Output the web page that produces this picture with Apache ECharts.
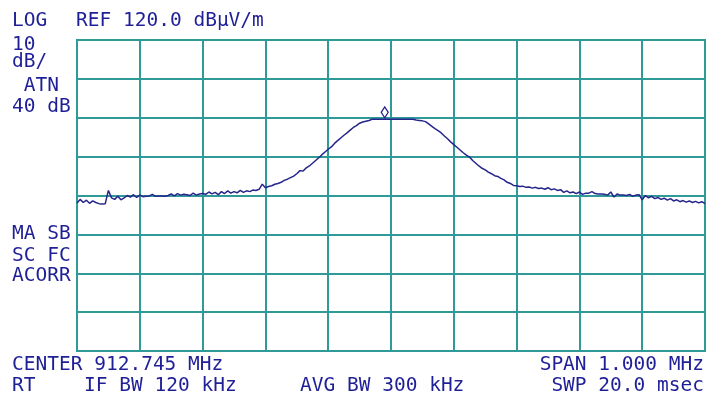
<!DOCTYPE html>
<html>
<head>
<meta charset="utf-8">
<script src="https://cdn.jsdelivr.net/npm/echarts@6/dist/echarts.min.js"></script>
<style>
html,body{margin:0;padding:0;background:#ffffff;}
#chart{width:708px;height:401px;}
</style>
</head>
<body>
<div id="chart"></div>
<script>
// Sweep settings (kHz offset from centre)
const spanStartKHz = -500;
const spanEndKHz = 500;
const sweepStepKHz = 5;
// Reference level and scale (dBµV/m)
const refLevel = 120;
const bottomLevel = 40;
const dbPerDiv = 10;

// Trace levels (dBµV/m), one per sweep point
const traceLevels = [
  78.1, 79.0, 78.2, 78.8, 78.0, 78.6, 78.2, 77.9, 77.8, 77.9,
  81.3, 79.4, 79.0, 79.8, 78.9, 79.4, 80.0, 79.6, 80.2, 79.5,
  80.1, 79.7, 79.8, 79.9, 80.3, 79.8, 79.9, 79.9, 79.8, 80.0,
  80.4, 79.9, 80.5, 80.1, 80.3, 80.2, 80.0, 80.6, 80.1, 80.4,
  80.5, 80.3, 80.9, 80.4, 80.8, 80.2, 81.0, 80.5, 81.2, 80.6,
  81.0, 80.7, 81.3, 80.8, 81.2, 81.0, 81.4, 81.3, 81.6, 82.9,
  82.0, 82.3, 82.5, 82.9, 83.1, 83.4, 83.9, 84.2, 84.6, 85.0,
  85.6, 86.4, 86.3, 87.1, 87.6, 88.3, 89.0, 89.7, 90.5, 91.2,
  91.9, 92.5, 93.4, 94.1, 94.8, 95.5, 96.1, 96.8, 97.5, 98.0,
  98.6, 98.9, 99.1, 99.3, 99.6, 99.6, 99.6, 99.6, 99.6, 99.6,
  99.6, 99.6, 99.6, 99.6, 99.6, 99.6, 99.6, 99.6, 99.4, 99.3,
  99.2, 99.0, 98.4, 97.8, 97.2, 96.7, 96.1, 95.3, 94.6, 93.8,
  93.1, 92.4, 91.7, 91.0, 90.4, 89.9, 89.0, 88.3, 87.6, 87.0,
  86.6, 86.0, 85.6, 85.1, 84.9, 84.4, 84.0, 83.4, 83.1, 82.6,
  82.5, 82.3, 82.4, 82.1, 82.2, 81.9, 82.1, 81.8, 81.9, 81.6,
  82.0, 81.5, 81.7, 81.3, 81.5, 80.8, 81.2, 80.7, 80.9, 80.5,
  80.9, 80.3, 80.6, 80.6, 81.0, 80.5, 80.4, 80.4, 80.3, 80.1,
  80.9, 79.6, 80.4, 80.1, 80.1, 80.0, 80.3, 79.8, 80.1, 80.2,
  78.9, 80.0, 79.4, 79.8, 79.2, 79.5, 79.0, 79.3, 78.8, 79.2,
  78.6, 78.9, 78.4, 78.7, 78.3, 78.6, 78.2, 78.5, 78.1, 78.4,
  77.9
];
// Marker position (sweep point index)
const markerIndex = 98;

// Annotation texts
const topLeftTexts = ['LOG', '10', 'dB/', ' ATN', '40 dB'];
const refText = 'REF 120.0 dB\u00b5V/m';
const sideTexts = ['MA SB', 'SC FC', 'ACORR'];
const centerText = 'CENTER 912.745 MHz';
const spanText = 'SPAN 1.000 MHz';
const rtText = 'RT';
const ifbwText = 'IF BW 120 kHz';
const avgbwText = 'AVG BW 300 kHz';
const swpText = 'SWP 20.0 msec';

const traceData = traceLevels.map((v, i) => [spanStartKHz + i * sweepStepKHz, v]);

const TEXT = '#1f1f97';
const TRACE = '#25258c';
const GRIDC = '#2f9a98';
const FONT = '19.5px "DejaVu Sans Mono", monospace';

function txt(s, x, y, align) {
  return {
    type: 'text',
    style: { text: s, x: x, y: y, font: FONT, fill: TEXT, textAlign: align || 'left', textVerticalAlign: 'middle' },
    z: 10
  };
}

const graphics = [];
const tlY = [20.5, 44.5, 61.5, 85.5, 107];
topLeftTexts.forEach((s, k) => graphics.push(txt(s, 12, tlY[k])));
graphics.push(txt(refText, 76, 20.5));
const sideY = [233.5, 255.5, 275.5];
sideTexts.forEach((s, k) => graphics.push(txt(s, 12, sideY[k])));
graphics.push(txt(centerText, 12, 365));
graphics.push(txt(spanText, 704, 365, 'right'));
graphics.push(txt(rtText, 12, 386));
graphics.push(txt(ifbwText, 84, 386));
graphics.push(txt(avgbwText, 300, 386));
graphics.push(txt(swpText, 704, 386, 'right'));

const chart = echarts.init(document.getElementById('chart'), null, { renderer: 'canvas' });
chart.setOption({
  animation: false,
  backgroundColor: '#ffffff',
  grid: { left: 77, top: 40, width: 628, height: 311, show: true, borderColor: GRIDC, borderWidth: 2, backgroundColor: 'transparent' },
  xAxis: {
    type: 'value', min: spanStartKHz, max: spanEndKHz, interval: 100,
    axisLine: { show: false }, axisTick: { show: false }, axisLabel: { show: false },
    splitLine: { show: true, lineStyle: { color: GRIDC, width: 2 } }
  },
  yAxis: {
    type: 'value', min: bottomLevel, max: refLevel, interval: dbPerDiv,
    axisLine: { show: false }, axisTick: { show: false }, axisLabel: { show: false },
    splitLine: { show: true, lineStyle: { color: GRIDC, width: 2 } }
  },
  series: [{
    type: 'line',
    data: traceData,
    showSymbol: false,
    lineStyle: { color: TRACE, width: 1.5 },
    z: 5,
    markPoint: {
      symbol: 'diamond',
      symbolSize: [7, 11],
      symbolOffset: [0, -7],
      itemStyle: { color: '#ffffff', borderColor: TRACE, borderWidth: 1.3 },
      label: { show: false },
      data: [{ coord: traceData[markerIndex] }]
    }
  }],
  graphic: graphics
});
</script>
</body>
</html>
